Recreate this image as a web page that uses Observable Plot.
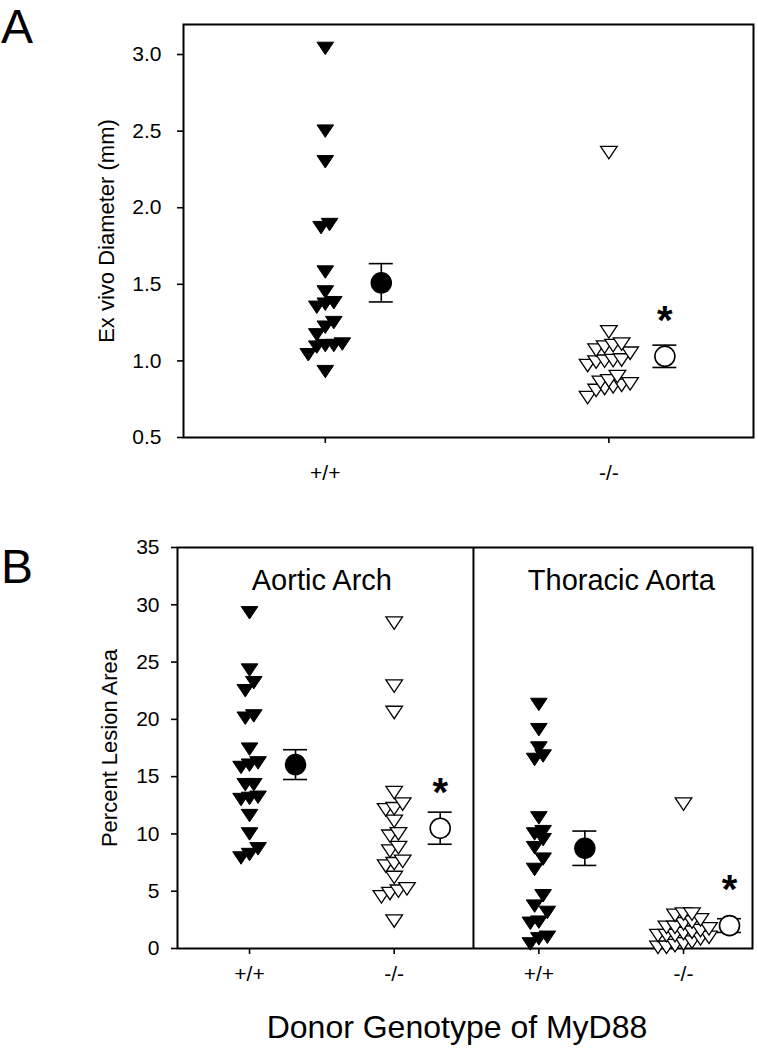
<!DOCTYPE html>
<html>
<head>
<meta charset="utf-8">
<script src="https://cdn.jsdelivr.net/npm/d3@7"></script>
<script src="https://cdn.jsdelivr.net/npm/@observablehq/plot@0.6"></script>
<style>
  html, body { margin: 0; padding: 0; background: #fff; }
  #fig { position: relative; width: 758px; height: 1050px; overflow: hidden;
         font-family: "Liberation Sans", Arial, Helvetica, sans-serif; color: #000; }
  #fig svg { position: absolute; left: 0; }
  #fig svg [aria-label*="axis"] path, #fig svg [aria-label*="axis"] line { stroke-width: 1.6px; }
  #fig svg g[aria-label*="axis"] { font-size: 21px; font-family: "Liberation Sans", Arial, sans-serif; }
  #fig svg g[aria-label*="axis"] text { font-size: 21px; }
  .letter { position: absolute; left: 1px; font-size: 48px; line-height: 1; }
  .title { position: absolute; left: 157px; width: 600px; text-align: center; font-size: 32px; line-height: 1; }
</style>
</head>
<body>
<div id="fig"></div>
<script>
// ---------------- data ----------------
const genotypeLabels = ["+/+", "-/-"];

// Panel A: ex vivo diameter (mm)
const diameterWT = [3.04, 2.50, 2.30, 1.89, 1.87, 1.58, 1.45, 1.38, 1.37, 1.35, 1.25, 1.22, 1.17, 1.11, 1.10, 1.10, 1.09, 1.04, 0.93];
const diameterKO = [2.36, 1.19, 1.11, 1.10, 1.09, 1.07, 1.05, 1.006, 1.002, 0.998, 0.992, 0.97, 0.898, 0.87, 0.86, 0.85, 0.84, 0.83, 0.82, 0.807, 0.76];
const diameterMean = [1.51, 1.03];
const diameterSE = [0.125, 0.073];
const diameterSig = [false, true];
const diameterTicks = [0.5, 1.0, 1.5, 2.0, 2.5, 3.0];

// Panel B: percent lesion area
const regionNames = ["Aortic Arch", "Thoracic Aorta"];
const archWT = [29.3, 24.3, 23.2, 22.5, 20.3, 20.1, 17.4, 16.2, 16.0, 15.8, 14.3, 14.3, 13.2, 13.1, 13.0, 11.6, 10.0, 8.7, 8.2, 7.9];
const archKO = [28.4, 22.9, 20.6, 13.6, 12.6, 12.2, 12.1, 11.1, 10.0, 9.8, 8.8, 8.5, 7.6, 7.4, 7.2, 6.2, 5.2, 5.0, 4.8, 4.5, 2.4];
const thorWT = [21.3, 19.1, 17.5, 16.8, 16.5, 11.4, 10.2, 10.0, 9.5, 8.8, 7.8, 6.9, 4.6, 3.7, 3.15, 2.3, 2.2, 0.98, 0.84, 0.4];
const thorKO = [12.6, 3.0, 3.0, 2.9, 2.5, 2.3, 2.15, 1.85, 1.85, 1.71, 1.57, 1.42, 1.3, 1.13, 1.13, 1.13, 0.98, 0.84, 0.55, 0.4, 0.26, 0.1, 0.1];
const lesionMean = [16.05, 10.5, 8.75, 2.0];
const lesionSE = [1.3, 1.4, 1.5, 0.6];
const lesionSig = [false, true, false, true];
const lesionTicks = [0, 5, 10, 15, 20, 25, 30, 35];

// ---------------- layout ----------------
const LA = {top: 0, width: 758, height: 500, mt: 24, mb: 63, ml: 183, mr: 5, x: [0.5, 2.51], y: [0.5, 3.196]};
const LB = {top: 520, width: 758, height: 530, mt: 27, mb: 102, ml: 177, mr: 6, x: [0.502, 4.477], y: [0, 35]};
const dividerB = 2.548;
const regionLabelX = [1.5, 3.57];
const pxX = L => (L.width - L.ml - L.mr) / (L.x[1] - L.x[0]);
const pxY = L => (L.height - L.mt - L.mb) / (L.y[1] - L.y[0]);

// dot-density layout: values close together are spread sideways in ascending rows
function spread(values, pos, L, binPx, stepPx, maxPerRow) {
  const kx = pxX(L), ky = pxY(L);
  const s = values.slice().sort((a, b) => a - b);
  const out = [];
  let i = 0;
  while (i < s.length) {
    let j = i + 1;
    while (j < s.length && j - i < maxPerRow && (s[j] - s[i]) * ky <= binPx) j++;
    const n = j - i;
    for (let k = 0; k < n; k++) out.push({x: pos + (k - (n - 1) / 2) * stepPx / kx, y: s[i + k]});
    i = j;
  }
  return out;
}

const downTriangle = {
  draw(ctx, size) {
    const r = Math.sqrt(size / Math.PI);
    const h = r * 1.5;
    ctx.moveTo(-r, -h / 2);
    ctx.lineTo(r, -h / 2);
    ctx.lineTo(0, h / 2);
    ctx.closePath();
  }
};

function pointMarks(values, pos, L, filled, binPx) {
  const data = spread(values, pos, L, binPx, 8.5, 8);
  return Plot.dot(data, {
    x: "x", y: "y", symbol: downTriangle, r: 8.3,
    fill: filled ? "black" : "white", stroke: "black", strokeWidth: filled ? 1 : 1.3
  });
}

function meanMarks(means, ses, positions, offPx, L, filledFlags, sigFlags) {
  const kx = pxX(L);
  const data = means.map((m, i) => ({
    x: positions[i] + offPx / kx,
    x1: positions[i] + (offPx - 12) / kx,
    x2: positions[i] + (offPx + 12) / kx,
    m, lo: m - ses[i], hi: m + ses[i], filled: filledFlags[i], sig: sigFlags[i]
  }));
  return [
    Plot.ruleX(data, {x: "x", y1: "lo", y2: "hi", stroke: "black", strokeWidth: 1.6}),
    Plot.ruleY(data, {y: "hi", x1: "x1", x2: "x2", stroke: "black", strokeWidth: 1.6}),
    Plot.ruleY(data, {y: "lo", x1: "x1", x2: "x2", stroke: "black", strokeWidth: 1.6}),
    Plot.dot(data.filter(d => d.filled), {x: "x", y: "m", r: 10, fill: "black", stroke: "black"}),
    Plot.dot(data.filter(d => !d.filled), {x: "x", y: "m", r: 10, fill: "white", stroke: "black", strokeWidth: 1.6}),
    Plot.text(data.filter(d => d.sig), {x: "x", y: "m", text: () => "*", dy: -35, fontSize: 40, fontWeight: "bold"})
  ];
}

const baseStyle = {fontFamily: "Liberation Sans, Arial, sans-serif", fontSize: "21px", color: "black", background: "white", overflow: "visible"};

// ---------------- Panel A ----------------
const plotA = Plot.plot({
  width: LA.width, height: LA.height,
  marginTop: LA.mt, marginBottom: LA.mb, marginLeft: LA.ml, marginRight: LA.mr,
  style: baseStyle,
  x: {domain: LA.x, ticks: [1, 2], tickFormat: d => genotypeLabels[d - 1], tickSize: 6, tickPadding: 22, label: null},
  y: {domain: LA.y, ticks: diameterTicks, tickFormat: d3.format(".1f"), tickSize: 6, tickPadding: 16, label: null},
  marks: [
    Plot.frame({stroke: "black", strokeWidth: 2}),
    pointMarks(diameterKO, 2, LA, false, 15),
    pointMarks(diameterWT, 1, LA, true, 15),
    ...meanMarks(diameterMean, diameterSE, [1, 2], 56, LA, [true, false], diameterSig),
    Plot.text(["Ex vivo Diameter (mm)"], {frameAnchor: "left", textAnchor: "middle", dx: -77, rotate: -90, fontSize: 22, text: d => d})
  ]
});
plotA.style.top = LA.top + "px";

// ---------------- Panel B ----------------
const plotB = Plot.plot({
  width: LB.width, height: LB.height,
  marginTop: LB.mt, marginBottom: LB.mb, marginLeft: LB.ml, marginRight: LB.mr,
  style: baseStyle,
  x: {domain: LB.x, ticks: [1, 2, 3, 4], tickFormat: d => genotypeLabels[(d - 1) % 2], tickSize: 6, tickPadding: 12, label: null},
  y: {domain: LB.y, ticks: lesionTicks, tickSize: 6, tickPadding: 12, label: null},
  marks: [
    Plot.frame({stroke: "black", strokeWidth: 2}),
    Plot.ruleX([dividerB], {stroke: "black", strokeWidth: 2}),
    pointMarks(archKO, 2, LB, false, 11),
    Plot.dot(spread(thorKO, 4, LB, 11, 8.5, 7), {x: "x", y: "y", symbol: downTriangle, r: 8.3, fill: "white", stroke: "black", strokeWidth: 1.3}),
    pointMarks(archWT, 1, LB, true, 11),
    pointMarks(thorWT, 3, LB, true, 11),
    ...meanMarks(lesionMean, lesionSE, [1, 2, 3, 4], 46, LB, [true, false, true, false], lesionSig),
    Plot.text(regionNames, {x: (d, i) => regionLabelX[i], frameAnchor: "top", dy: 22, fontSize: 29, text: d => d}),
    Plot.text(["Percent Lesion Area"], {frameAnchor: "left", textAnchor: "middle", dx: -68, rotate: -90, fontSize: 22, text: d => d})
  ]
});
plotB.style.top = LB.top + "px";

const fig = document.getElementById("fig");
fig.appendChild(plotA);
fig.appendChild(plotB);

function addDiv(cls, text, top) {
  const d = document.createElement("div");
  d.className = cls;
  d.textContent = text;
  d.style.top = top + "px";
  fig.appendChild(d);
}
addDiv("letter", "A", 3);
addDiv("letter", "B", 543);
addDiv("title", "Donor Genotype of MyD88", 1011);
</script>
</body>
</html>
